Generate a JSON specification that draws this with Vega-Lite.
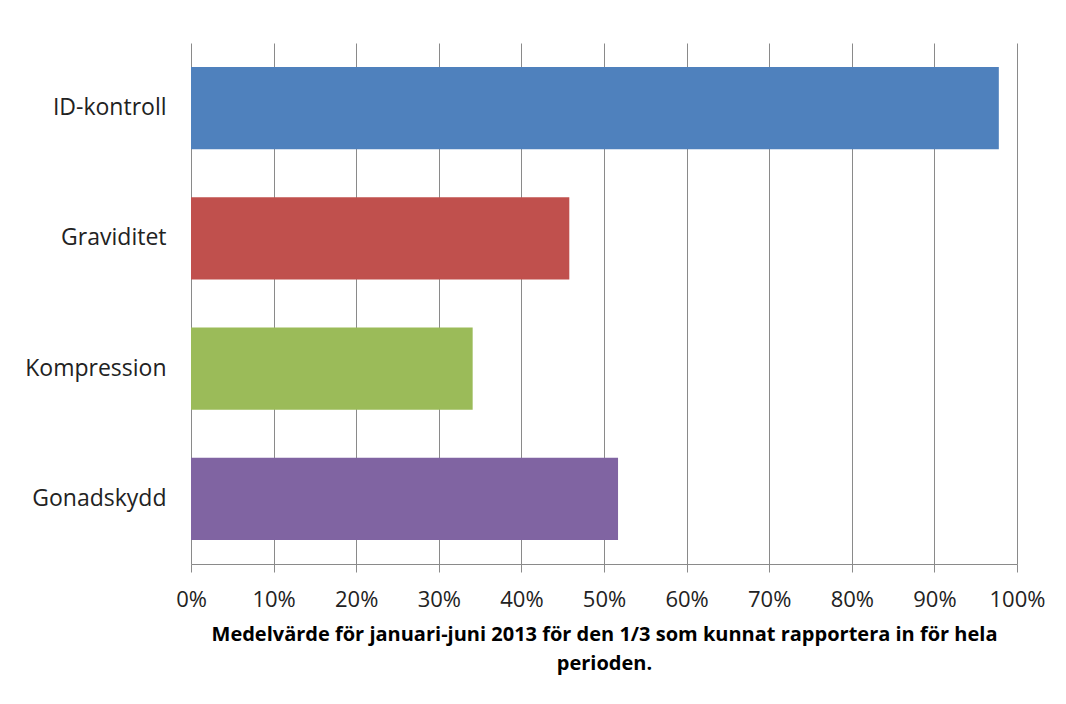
{
  "$schema": "https://vega.github.io/schema/vega-lite/v6.json",
  "autosize": {"type": "none"},
  "width": 826,
  "height": 521,
  "padding": {"left": 191, "top": 43, "right": 49, "bottom": 140},
  "background": "white",
  "data": {
    "values": [
      {"kategori": "ID-kontroll", "andel": 0.978},
      {"kategori": "Graviditet", "andel": 0.458},
      {"kategori": "Kompression", "andel": 0.341},
      {"kategori": "Gonadskydd", "andel": 0.517}
    ]
  },
  "mark": {"type": "bar"},
  "encoding": {
    "y": {
      "field": "kategori",
      "type": "nominal",
      "sort": null,
      "scale": {"paddingInner": 0.37, "paddingOuter": 0.185},
      "axis": {
        "title": null,
        "ticks": false,
        "domain": false,
        "labelFont": "Open Sans",
        "labelFontSize": 23,
        "labelColor": "#222222",
        "labelPadding": 25
      }
    },
    "x": {
      "field": "andel",
      "type": "quantitative",
      "scale": {"domain": [0, 1], "nice": false, "zero": true},
      "axis": {
        "values": [0, 0.1, 0.2, 0.3, 0.4, 0.5, 0.6, 0.7, 0.8, 0.9, 1],
        "format": ".0%",
        "grid": true,
        "gridColor": "#8a8a8a",
        "gridWidth": 1,
        "domainColor": "#8a8a8a",
        "domainWidth": 1,
        "tickColor": "#8a8a8a",
        "tickSize": 8,
        "labelFont": "Open Sans",
        "labelFontSize": 22,
        "labelColor": "#222222",
        "labelPadding": 17,
        "labelFlush": false,
        "labelOverlap": false,
        "title": ["Medelvärde för januari-juni 2013 för den 1/3 som kunnat rapportera in för hela", "perioden."],
        "titleFont": "Open Sans",
        "titleFontSize": 20,
        "titleFontWeight": "bold",
        "titleColor": "#000000",
        "titleLineHeight": 29,
        "titlePadding": 14
      }
    },
    "color": {
      "field": "kategori",
      "type": "nominal",
      "sort": null,
      "scale": {
        "domain": ["ID-kontroll", "Graviditet", "Kompression", "Gonadskydd"],
        "range": ["#4F81BD", "#C0504D", "#9BBB59", "#8064A2"]
      },
      "legend": null
    }
  },
  "config": {"view": {"stroke": null}}
}
